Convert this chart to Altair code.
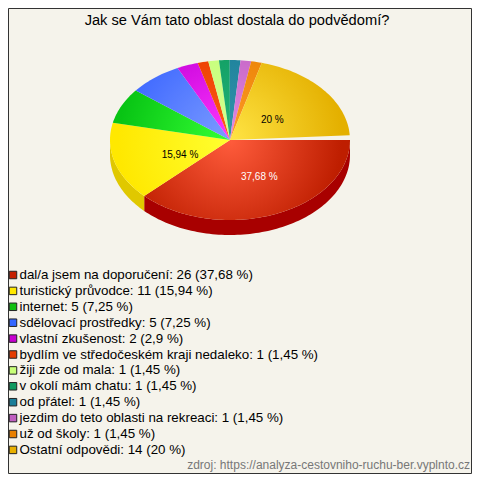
import math
import altair as alt
import pandas as pd

TITLE = "Jak se Vám tato oblast dostala do podvědomí?"
SOURCE = "zdroj: https://analyza-cestovniho-ruchu-ber.vyplnto.cz"
categories = ["dal/a jsem na doporučení", "turistický průvodce", "internet", "sdělovací prostředky",
              "vlastní zkušenost", "bydlím ve středočeském kraji nedaleko", "žiji zde od mala",
              "v okolí mám chatu", "od přátel", "jezdim do teto oblasti na rekreaci", "už od školy",
              "Ostatní odpovědi"]
counts = [26, 11, 5, 5, 2, 1, 1, 1, 1, 1, 1, 14]
percents = ["37,68", "15,94", "7,25", "7,25", "2,9", "1,45", "1,45", "1,45", "1,45", "1,45", "1,45", "20"]
shares = [37.68, 15.94, 7.25, 7.25, 2.9, 1.45, 1.45, 1.45, 1.45, 1.45, 1.45, 20.0]
legend_colors = ["#C42000", "#FFE800", "#10C010", "#3366FF", "#C800D0", "#E43C00",
                 "#C8FF78", "#109A60", "#1A7E98", "#C060C0", "#E88000", "#E8B000"]
inner_colors = ["#FF5C3C", "#FFFF30", "#34FF34", "#7C9CFF", "#FF38FF", "#FF5A14",
                "#D4FF90", "#24B478", "#3494AC", "#E488E4", "#FF9A28", "#FFE444"]
outer_colors = ["#BE1E00", "#FFE800", "#08C414", "#3E68FF", "#C400D8", "#E83C00",
                "#C4FF78", "#0E9A60", "#1A7E98", "#C060C0", "#E88000", "#E4B000"]
side_colors = {0: "#A80000", 1: "#E0C800"}
label_texts = ["37,68 %", "15,94 %", "20 %"]
label_x = [259.3, 180, 272.3]
label_y = [177.3, 154.5, 120]
label_colors = ["#FFFFFF", "#000000", "#000000"]

CX, CY, RX, RY, DEPTH = 230, 140, 120, 80, 15
FACTOR = (357.6 - shares[0] * 3.6) / (360 - shares[0] * 3.6)

xs = alt.Scale(domain=[8, 472], range=[0, 464], nice=False, zero=False)
ys = alt.Scale(domain=[8, 474], range=[0, 466], nice=False, zero=False)
X = lambda f: alt.X(f, type="quantitative", scale=xs, axis=None)
Y = lambda f: alt.Y(f, type="quantitative", scale=ys, axis=None)


def rim(a, dy=0.0):
    r = math.radians(a)
    return CX + RX * math.cos(r), CY + RY * math.sin(r) + dy


def arc(a0, a1, dy=0.0):
    n = max(2, int(abs(a1 - a0) / 1.5) + 1)
    return [rim(a0 + (a1 - a0) * k / n, dy) for k in range(n + 1)]


def polygon(pts, fill):
    df = pd.DataFrame({"x": [p[0] for p in pts], "y": [p[1] for p in pts], "i": range(len(pts))})
    return alt.Chart(df).mark_line(fill=fill, strokeWidth=0, clip=False).encode(
        x=X("x"), y=Y("y"), order=alt.Order("i:Q"))


layers = []
frame = pd.DataFrame({"x": [8.5], "x2": [471.5], "y": [8.5], "y2": [473.5]})
layers.append(alt.Chart(frame).mark_rect(fill="#F5F3EB", stroke="#333333", strokeWidth=1).encode(
    x=X("x"), x2="x2", y=Y("y"), y2="y2"))

edges = [0.0]
for k, s in enumerate(shares):
    step = s * 3.6 if k == 0 else s * 3.6 * FACTOR
    edges.append(edges[-1] + step)

# side walls
for k, col in side_colors.items():
    a0, a1 = edges[k], min(edges[k + 1], 180)
    layers.append(polygon(arc(a0, a1) + arc(a1, a0, DEPTH), col))

# top faces
for k in range(len(shares)):
    a0, a1 = edges[k], edges[k + 1]
    pts = [(CX, CY)] + arc(a0, a1)
    bx0 = min(p[0] for p in pts)
    bx1 = max(p[0] for p in pts)
    by0 = min(p[1] for p in pts)
    by1 = max(p[1] for p in pts)
    w, h = bx1 - bx0, by1 - by0
    s = max(w, h)
    ux = (CX - bx0 - (w - s) / 2) / s
    uy = (CY - by0 - (h - s) / 2) / s
    grad = alt.RadialGradient(gradient="radial", x1=ux, y1=uy, r1=0, x2=ux, y2=uy, r2=112 / s,
                              stops=[alt.GradientStop(offset=0, color=inner_colors[k]),
                                     alt.GradientStop(offset=1, color=outer_colors[k])])
    layers.append(polygon(pts, grad))

labels = pd.DataFrame({"x": label_x, "y": label_y, "t": label_texts, "c": label_colors})
layers.append(alt.Chart(labels).mark_text(font="Liberation Sans", fontSize=10, align="center", baseline="middle").encode(
    x=X("x"), y=Y("y"), text="t:N", color=alt.Color("c:N", scale=None)))

# legend
legend_y = [275 + 15.9 * k for k in range(len(categories))]
leg = pd.DataFrame({
    "y": legend_y,
    "sx": [13] * len(categories),
    "tx": [19.5] * len(categories),
    "t": [f"{c}: {n} ({p} %)" for c, n, p in zip(categories, counts, percents)],
    "c": legend_colors,
})
layers.append(alt.Chart(leg).mark_square(size=56, opacity=1, stroke="#222222", strokeWidth=1).encode(
    x=X("sx"), y=Y("y"), fill=alt.Fill("c:N", scale=None)))
layers.append(alt.Chart(leg).mark_text(font="Liberation Sans", fontSize=13.33, align="left", baseline="middle", color="#000000").encode(
    x=X("tx"), y=Y("y"), text="t:N"))

texts = pd.DataFrame({"x": [237, 470], "y": [21, 465], "t": [TITLE, SOURCE]})
layers.append(alt.Chart(texts.iloc[[0]]).mark_text(font="Liberation Sans", fontSize=14.67, align="center", baseline="middle", color="#000000").encode(
    x=X("x"), y=Y("y"), text="t:N"))
layers.append(alt.Chart(texts.iloc[[1]]).mark_text(font="Liberation Sans", fontSize=12, align="right", baseline="middle", color="#777777").encode(
    x=X("x"), y=Y("y"), text="t:N"))

chart = alt.layer(*layers).properties(
    width=464, height=466, padding=0, background="#F5F3EB",
    autosize=alt.AutoSizeParams(type="none", contains="padding"),
).configure_view(strokeWidth=0)

chart.save("out.html", embed_options={"renderer": "svg", "actions": False})
